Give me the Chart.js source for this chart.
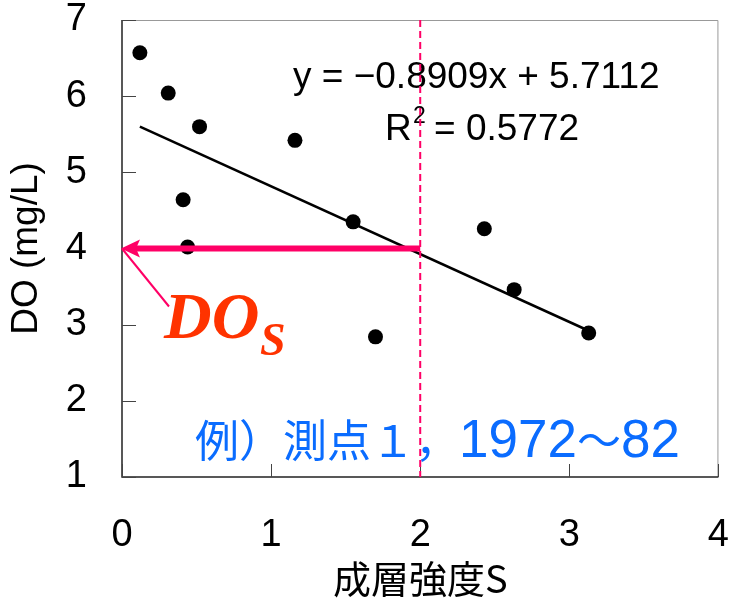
<!DOCTYPE html>
<html lang="ja">
<head>
<meta charset="UTF-8">
<title>DO と成層強度</title>
<script src="https://cdn.jsdelivr.net/npm/chart.js"></script>
<style>
  html, body { margin: 0; padding: 0; background: #fff; }
</style>
</head>
<body>
<canvas id="chart" width="729" height="601"></canvas>
<script>
// 測点1, 1972~82 : 成層強度S と DO
const stratS   = [0.12, 0.31, 0.52, 0.41, 0.44, 1.16, 1.55, 1.70, 2.43, 2.63, 3.13];
const doValues = [6.57, 6.04, 5.60, 4.64, 4.02, 5.42, 4.35, 2.84, 4.26, 3.46, 2.89];
const trendX = [0.12, 3.13];
const trendY = [5.60, 2.92];
const xTicks = [0, 1, 2, 3, 4];
const yTicks = [1, 2, 3, 4, 5, 6, 7];
const criticalS = 2;   // dashed line
const doS = 4;         // DOs

const NUM = '"Liberation Sans", Arial, sans-serif';
const JP = '"Noto Sans CJK JP", sans-serif';
const PINK = '#ff0066';

const overlay = {
  id: 'overlay',
  afterDatasetsDraw(chart) {
    const { ctx, chartArea: a, scales: { x, y } } = chart;
    ctx.save();

    // frame
    ctx.lineWidth = 1;
    ctx.strokeStyle = '#999';
    ctx.beginPath();
    ctx.moveTo(a.left, a.top + 0.5);
    ctx.lineTo(a.right - 0.5, a.top + 0.5);
    ctx.lineTo(a.right - 0.5, a.bottom);
    ctx.stroke();
    ctx.strokeStyle = '#222';
    ctx.lineWidth = 1.5;
    ctx.beginPath();
    ctx.moveTo(a.left, a.top);
    ctx.lineTo(a.left, a.bottom);
    ctx.lineTo(a.right, a.bottom);
    ctx.stroke();

    // inward ticks
    ctx.lineWidth = 1;
    ctx.strokeStyle = '#444';
    yTicks.forEach(v => {
      const py = Math.round(y.getPixelForValue(v)) + 0.5;
      ctx.beginPath(); ctx.moveTo(a.left, py); ctx.lineTo(a.left + 14, py); ctx.stroke();
    });
    xTicks.forEach(v => {
      const px = Math.round(x.getPixelForValue(v)) + 0.5;
      ctx.beginPath(); ctx.moveTo(px, a.bottom); ctx.lineTo(px, a.bottom - 13); ctx.stroke();
    });

    // equation
    ctx.fillStyle = '#000';
    ctx.textBaseline = 'alphabetic';
    ctx.font = '37px ' + NUM;
    ctx.fillText('y = −0.8909x + 5.7112', 293, 88);
    ctx.fillText('R', 385, 140);
    ctx.font = '23px ' + NUM;
    ctx.fillText('2', 413, 123);
    ctx.font = '37px ' + NUM;
    ctx.fillText('= 0.5772', 434, 140);

    // example label
    ctx.fillStyle = '#0a6cff';
    const parts = [
      ['例）測点１，', '44px ' + JP],
      ['1972', '53px ' + NUM],
      ['～', '44px ' + JP],
      ['82', '53px ' + NUM]
    ];
    let tx = 195;
    parts.forEach(([t, f]) => {
      ctx.font = f;
      ctx.fillText(t, tx, 457);
      tx += ctx.measureText(t).width;
    });

    // DOs label
    ctx.fillStyle = '#ff3300';
    ctx.font = 'italic bold 66px "Liberation Serif", "Times New Roman", serif';
    ctx.fillText('DO', 164, 338);
    ctx.font = 'italic bold 46px "Liberation Serif", "Times New Roman", serif';
    ctx.fillText('S', 260, 355);

    // dashed line at S = 2
    const xc = x.getPixelForValue(criticalS);
    const yd = y.getPixelForValue(doS);
    const x0 = x.getPixelForValue(0);
    ctx.strokeStyle = PINK;
    ctx.lineWidth = 2;
    ctx.setLineDash([7, 4]);
    ctx.beginPath(); ctx.moveTo(xc, a.top); ctx.lineTo(xc, a.bottom); ctx.stroke();
    ctx.setLineDash([]);

    // leader line to DOs
    ctx.lineWidth = 2;
    ctx.beginPath(); ctx.moveTo(x0, yd); ctx.lineTo(x0 + 47, yd + 58); ctx.stroke();

    // arrow from S=2 to the axis
    ctx.lineWidth = 6;
    ctx.beginPath(); ctx.moveTo(xc, yd); ctx.lineTo(x0 + 14, yd); ctx.stroke();
    ctx.fillStyle = PINK;
    ctx.beginPath();
    ctx.moveTo(x0 - 1, yd);
    ctx.lineTo(x0 + 18, yd - 9);
    ctx.lineTo(x0 + 14, yd);
    ctx.lineTo(x0 + 18, yd + 9);
    ctx.closePath();
    ctx.fill();

    ctx.restore();
  }
};

new Chart(document.getElementById('chart'), {
  type: 'scatter',
  data: {
    datasets: [
      {
        label: 'trend',
        data: trendX.map((v, i) => ({ x: v, y: trendY[i] })),
        showLine: true,
        borderColor: '#000',
        borderWidth: 2.5,
        pointRadius: 0
      },
      {
        label: 'DO',
        data: stratS.map((v, i) => ({ x: v, y: doValues[i] })),
        pointRadius: 7.5,
        pointBackgroundColor: '#000',
        pointBorderWidth: 0
      }
    ]
  },
  options: {
    responsive: false,
    animation: false,
    layout: { padding: { top: 20, right: 10, left: 0, bottom: 0 } },
    plugins: { legend: { display: false }, tooltip: { enabled: false } },
    scales: {
      x: {
        type: 'linear', min: 0, max: 4,
        afterBuildTicks: s => { s.ticks = xTicks.map(v => ({ value: v })); },
        afterFit: s => { s.height = 124; },
        grid: { display: false, drawTicks: true, tickLength: 40 },
        border: { display: false },
        ticks: { padding: 0, color: '#000', font: { family: NUM, size: 38, lineHeight: 1 } },
        title: { display: true, text: '成層強度S', color: '#000',
                 font: { family: JP, size: 38, lineHeight: 1.2 }, padding: { top: 0, bottom: 0 } }
      },
      y: {
        type: 'linear', min: 1, max: 7,
        afterBuildTicks: s => { s.ticks = yTicks.map(v => ({ value: v })); },
        afterFit: s => { s.width = 122; },
        grid: { display: false, drawTicks: true, tickLength: 35 },
        border: { display: false },
        ticks: { padding: 0, color: '#000', font: { family: NUM, size: 38, lineHeight: 1 } },
        title: { display: true, text: 'DO (mg/L)', color: '#000',
                 font: { family: NUM, size: 37, lineHeight: 1.2 }, padding: { top: 5, bottom: 0 } }
      }
    }
  },
  plugins: [overlay]
});
</script>
</body>
</html>
